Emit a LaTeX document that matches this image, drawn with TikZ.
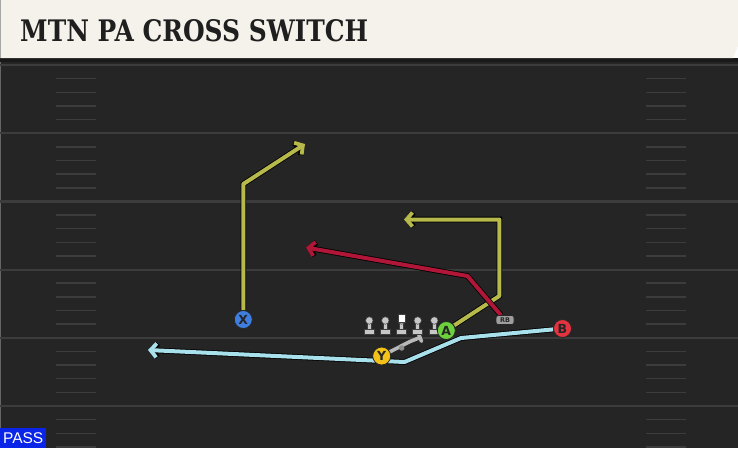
\documentclass[tikz,border=0pt]{standalone}
\usepackage{fontspec}
\setmainfont{DejaVu Serif}
\setsansfont{DejaVu Sans}
\newfontfamily\passfont{Liberation Sans}
\usetikzlibrary{arrows.meta}
\usetikzlibrary{calc}

% Colours taken from the play card
\definecolor{headerbg}{RGB}{244,242,235}
\definecolor{fieldbg}{RGB}{37,37,37}
\definecolor{yardline}{RGB}{60,60,60}
\definecolor{routeyellow}{RGB}{183,185,74}
\definecolor{routered}{RGB}{176,22,56}
\definecolor{routecyan}{RGB}{168,224,236}
\definecolor{xblue}{RGB}{62,126,224}
\definecolor{yyellow}{RGB}{242,194,27}
\definecolor{agreen}{RGB}{108,209,60}
\definecolor{bred}{RGB}{226,51,63}
\definecolor{passblue}{RGB}{10,36,232}
\colorlet{blockgray}{black!22}

% Layers so the routes run under the player markers
\pgfdeclarelayer{field}
\pgfdeclarelayer{routes}
\pgfsetlayers{field,routes,main}

% One offensive lineman: #1 node name, #2 x position
\newcommand{\blocker}[2]{%
  \filldraw[fill=blockgray, draw=black!75, line width=0.5pt] (#2-2,321) rectangle (#2+2,330.5);
  \filldraw[fill=blockgray, draw=black!75, line width=0.5pt] (#2-5,329.5) rectangle (#2+5,334);
  \node[blockhead] (#1) at (#2,320.5) {};
}

\begin{document}
\begin{tikzpicture}[
    x=1pt, y=-1pt,
    every node/.style={font=\sffamily\bfseries}
  ]
\useasboundingbox (0,0) rectangle (738,448);

\tikzset{
  player/.style={circle, draw=black!85, line width=0.8pt, minimum size=18pt,
    inner sep=0pt, font=\fontsize{12.5}{12.5}\sffamily\bfseries, text=black!85},
  blockhead/.style={circle, fill=blockgray, draw=black!75, line width=0.5pt,
    minimum size=7.5pt, inner sep=0pt},
  route/.style={line width=4pt, line join=round,
    -{Straight Barb[length=6pt, width=14pt, line width=3.8pt]},
    preaction={draw=black, line width=5.6pt,
      -{Straight Barb[length=6pt, width=14pt, line width=5.4pt]}}},
  qbpath/.style={line width=3.6pt, line cap=round, draw=black!28}
}

% Field and header
\begin{pgfonlayer}{field}
\fill[fieldbg] (0,58) rectangle (738,448);
\fill[black!90] (0,58) rectangle (738,62);
\draw[black!60, line width=1pt] (0.5,62) -- (0.5,448);

% Yard lines, one every 68.2px
\pgfmathsetmacro{\yardgap}{68.2}
\pgfmathsetmacro{\hashgap}{\yardgap/5}
\draw[yardline, line width=2.2pt] (0,65) -- (738,65);
\draw[yardline, line width=2.2pt] (0,133.2) -- (738,133.2);
\draw[yardline, line width=2.2pt] (0,201.4) -- (738,201.4);
\draw[yardline, line width=2.2pt] (0,269.6) -- (738,269.6);
\draw[yardline, line width=2.2pt] (0,337.8) -- (738,337.8);
\draw[yardline, line width=2.2pt] (0,406) -- (738,406);

% Hash marks on both sides
\foreach \yd in {65,133.2,201.4,269.6,337.8,406}
  \foreach \k in {1,...,4}
    \draw[yardline, line width=1.5pt]
      (56,\yd+\k*\hashgap) -- (96,\yd+\k*\hashgap)
      (646,\yd+\k*\hashgap) -- (686,\yd+\k*\hashgap);

% Title band with its clipped corner
\fill[headerbg] (0,0) -- (738,0) -- (738,46) -- (733,58) -- (0,58) -- cycle;
\draw[black!35, line width=1.2pt] (0.6,0) -- (0.6,58);
\end{pgfonlayer}

\node[anchor=south west, inner sep=0pt, text=black!88] (title) at (20,42)
  {\resizebox{348pt}{22pt}{\rmfamily\bfseries MTN PA CROSS SWITCH}};

% Play type tag
\node[anchor=south west, fill=passblue, text=white, minimum width=46pt,
  minimum height=20pt, inner sep=0pt, font=\fontsize{15.5}{15.5}\passfont] (pass) at (0,448) {PASS};

% Offensive line, the center marked by a square
\blocker{lt}{369.3}
\blocker{lg}{385.3}
\blocker{c}{401.7}
\blocker{rg}{417.7}
\blocker{rt}{434.3}
\node[fill=white, draw=black!75, line width=0.5pt, minimum size=7.5pt, inner sep=0pt]
  (ball) at (401.7,318) {};

% Skill players
\node[player, fill=xblue] (X) at (243.3,319.5) {X};
\node[player, fill=yyellow] (Y) at (381.7,356) {Y};
\node[player, fill=agreen] (A) at (446.3,330.5) {A};
\node[player, fill=bred] (B) at (562.5,328.5) {B};
\node[fill=black!38, draw=black!85, line width=0.6pt, rounded corners=2.5pt,
  minimum width=18pt, minimum height=9pt, inner sep=0pt,
  font=\fontsize{6.5}{6.5}\sffamily\bfseries, text=black!85] (RB) at (505,320) {RB};
\node[circle, fill=black!45, minimum size=5.5pt, inner sep=0pt] (qb) at (401.7,348) {};

% Break points of the routes
\coordinate (xbreak) at (243.3,184);
\coordinate (xend) at (305,144);
\coordinate (abreak) at (499.3,296);
\coordinate (aturn) at (499.3,219.5);
\coordinate (aend) at (404,219.5);
\coordinate (rbbreak) at (467.5,276);
\coordinate (rbend) at (306,247.5);
\coordinate (bbreak) at (461,338);
\coordinate (bdip) at (404.5,362);
\coordinate (bend) at (148,350);
\coordinate (qbturn) at (410,341.5);
\coordinate (qbend) at (420,337.5);

\begin{pgfonlayer}{routes}
\draw[route, routeyellow] (X) -- (xbreak) -- (xend);
\draw[route, routeyellow] (A) -- (abreak) -- (aturn) -- (aend);
\draw[route, routered] (RB) -- (rbbreak) -- (rbend);
\draw[route, routecyan] (B) -- (bbreak) -- (bdip) -- (bend);

% Play-action fake by the quarterback
\draw[qbpath] (Y) -- (qbturn) -- (qbend);
\draw[qbpath] ($(qbend)+(-1.5,-3.8)$) -- ($(qbend)+(1.5,3.8)$);
\end{pgfonlayer}

\end{tikzpicture}
\end{document}
